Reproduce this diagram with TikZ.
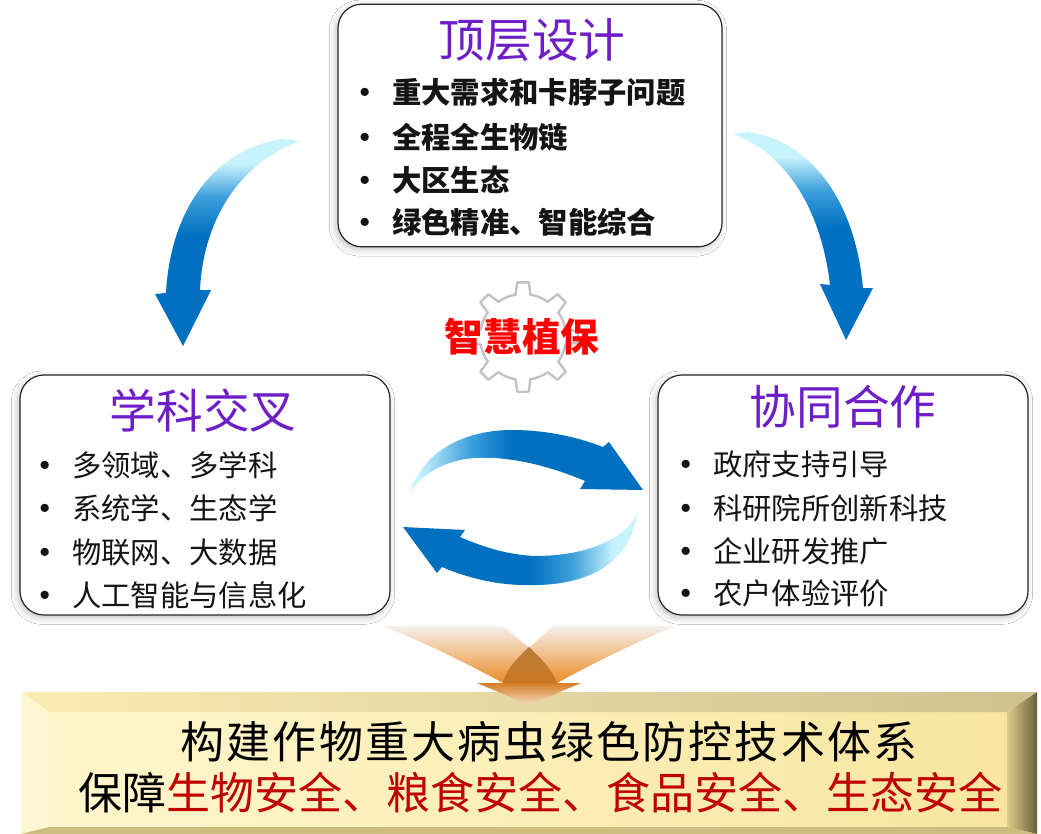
\documentclass[tikz,border=0pt]{standalone}
\usepackage{fontspec}
\setmainfont{Noto Sans CJK SC}
\newfontfamily\cjkspaced[LetterSpace=5]{Noto Sans CJK SC}
\usetikzlibrary{shadows.blur}
\definecolor{titlepurple}{RGB}{110,30,200}
\definecolor{bannerred}{RGB}{192,0,0}
\definecolor{arrowdark}{RGB}{0,112,192}
\definecolor{arrowmid}{RGB}{60,160,220}
\definecolor{arrowlight}{RGB}{200,242,252}
\definecolor{geargrey}{RGB}{195,195,195}
\definecolor{facel}{RGB}{255,246,205}
\definecolor{facer}{RGB}{248,230,160}
\definecolor{bevtop}{RGB}{250,236,178}
\definecolor{bevleft}{RGB}{255,247,210}
\definecolor{bevdark}{RGB}{105,95,60}
\definecolor{bevmid}{RGB}{225,205,135}
\definecolor{bevbot}{RGB}{205,188,125}
\definecolor{orng}{RGB}{235,140,40}
\definecolor{orngpale}{RGB}{246,240,236}
\definecolor{orngdark}{RGB}{185,125,55}
\pgfdeclarehorizontalshading{bluelr}{100bp}{color(0bp)=(arrowlight); color(27bp)=(arrowlight); color(38bp)=(arrowmid); color(47bp)=(arrowdark); color(100bp)=(arrowdark)}
\pgfdeclarehorizontalshading{bluerl}{100bp}{color(0bp)=(arrowdark); color(52bp)=(arrowdark); color(61bp)=(arrowmid); color(70bp)=(arrowlight); color(100bp)=(arrowlight)}
\pgfdeclareverticalshading{bluetb}{100bp}{color(0bp)=(arrowdark); color(52bp)=(arrowdark); color(61bp)=(arrowmid); color(69bp)=(arrowlight); color(100bp)=(arrowlight)}
\tikzset{
  panel/.style={draw=black!85, line width=0.9pt, rounded corners=18pt, fill=white,
    blur shadow={shadow xshift=-1.5pt, shadow yshift=-2pt, shadow blur radius=5pt, shadow opacity=25}},
  paneltitle/.style={text=titlepurple, font=\fontsize{35}{40}\selectfont, inner sep=0pt},
  itemb/.style={anchor=west, inner sep=0pt, text=black!92, font=\bfseries\fontsize{22}{26}\selectfont},
  itemr/.style={anchor=west, inner sep=0pt, text=black!92, font=\fontsize{22}{26}\selectfont},
  gearline/.style={draw=geargrey, line width=1.8pt, line join=round},
  bluearrow/.style={draw=none},
}
\newcommand{\bul}{\makebox[14pt][c]{•}\hspace{13pt}}
\newcommand{\bulb}{\makebox[14pt][c]{\bfseries •}\hspace{13pt}}
\begin{document}
\begin{tikzpicture}[x=0.75pt,y=-0.75pt]
\useasboundingbox (0,0) rectangle (1041,834);
\fill[white] (0,0) rectangle (1041,834);

% ---------- bottom banner ----------
\shade[left color=facel, right color=facer] (49,712) rectangle (1007,827);
\shade[left color=bevtop, right color=bevtop!70!bevdark] (21,692) -- (1037,692) -- (1007,712) -- (49,712) -- cycle;
\fill[bevleft] (21,692) -- (49,712) -- (49,827) -- (21,834) -- cycle;
\shade[left color=bevmid, right color=bevdark] (1037,692) -- (1037,834) -- (1007,827) -- (1007,712) -- cycle;
\fill[bevbot] (21,834) -- (49,827) -- (1007,827) -- (1037,834) -- cycle;

\node[inner sep=0pt, text=black, font=\cjkspaced\fontsize{33}{36}\selectfont] (line1) at (549,742) {构建作物重大病虫绿色防控技术体系};
\node[inner sep=0pt, text=black, font=\fontsize{33}{36}\selectfont] (line2) at (540,793) {保障\textcolor{bannerred}{生物安全、粮食安全、食品安全、生态安全}};

% ---------- converging orange arrow ----------
\shade[top color=orngpale, bottom color=orng]
  (383,626) -- (503,626) -- (529,648) -- (553,626) -- (675,626)
  .. controls (630,645) and (590,665) .. (557,683) -- (503,683)
  .. controls (470,665) and (430,645) .. (383,626) -- cycle;
\shade[top color=orngdark, bottom color=orng!85!black]
  (529,647) .. controls (515,660) and (505,672) .. (503,683) -- (557,683)
  .. controls (553,672) and (543,660) .. (529,647) -- cycle;
\shade[top color=orng!90!black, bottom color=orngpale!80!orng]
  (477,683) -- (581,683) -- (529,705) -- cycle;

% ---------- panels ----------
\node[panel, minimum width=288pt, minimum height=182pt] (topbox) at (530,125.5) {};
\node[panel, minimum width=277.5pt, minimum height=180pt] (leftbox) at (205,495) {};
\node[panel, minimum width=277.5pt, minimum height=180pt] (rightbox) at (843,495) {};

\node[paneltitle] (toptitle) at (532,40) {顶层设计};
\node[itemb] (t1) at (356,92) {\bul 重大需求和卡脖子问题};
\node[itemb] (t2) at (356,137) {\bul 全程全生物链};
\node[itemb] (t3) at (356,180) {\bul 大区生态};
\node[itemb] (t4) at (356,222) {\bul 绿色精准、智能综合};

\node[paneltitle] (lefttitle) at (203,411) {学科交叉};
\node[itemr] (l1) at (36,465) {\bulb 多领域、多学科};
\node[itemr] (l2) at (36,508) {\bulb 系统学、生态学};
\node[itemr] (l3) at (36,552) {\bulb 物联网、大数据};
\node[itemr] (l4) at (36,595) {\bulb 人工智能与信息化};

\node[paneltitle] (righttitle) at (843,407) {协同合作};
\node[itemr] (r1) at (677,464) {\bulb 政府支持引导};
\node[itemr] (r2) at (677,508) {\bulb 科研院所创新科技};
\node[itemr] (r3) at (677,551) {\bulb 企业研发推广};
\node[itemr] (r4) at (677,593) {\bulb 农户体验评价};

% ---------- gear ----------
\begin{scope}[shift={(523,337)}, x=0.75pt, y=0.75pt]
\draw[gearline] (80:43) \foreach \a in {90,135,...,405} {
   -- (\a-10:43) -- (\a-6:55) -- (\a+6:55) -- (\a+10:43)
   arc[start angle=\a+10, end angle=\a+35, radius=43]} -- cycle;
\end{scope}
\node[inner sep=0pt, text=red, font=\bfseries\fontsize{29}{32}\selectfont] (core) at (522,337) {智慧植保};

% ---------- blue arrows ----------
\shade[bluearrow, shading=bluetb]
  (282,139) .. controls (210,150) and (170,215) .. (166,293)
  -- (155,294) -- (183,346) -- (211,290) -- (200,290)
  .. controls (203,225) and (235,165) .. (300,141) -- cycle;
\shade[bluearrow, shading=bluetb]
  (748,132) .. controls (810,140) and (855,200) .. (863,288)
  -- (873,288) -- (846,340) -- (820,284) -- (830,285)
  .. controls (822,215) and (790,155) .. (733,134) -- cycle;
\shade[bluearrow, shading=bluelr]
  (410,492) .. controls (425,447) and (470,430) .. (512,430)
  .. controls (548,430) and (580,438) .. (603,447)
  -- (609,442) -- (643,490) -- (580,489) -- (585,481)
  .. controls (550,466) and (510,456) .. (475,458)
  .. controls (445,460) and (422,474) .. (410,492) -- cycle;
\shade[bluearrow, shading=bluerl]
  (637,514) .. controls (630,562) and (590,587) .. (525,585)
  .. controls (495,585) and (465,577) .. (442,567)
  -- (437,573) -- (403,527) -- (465,530) -- (460,537)
  .. controls (485,548) and (510,555) .. (535,556)
  .. controls (580,556) and (622,543) .. (637,514) -- cycle;
\end{tikzpicture}
\end{document}
